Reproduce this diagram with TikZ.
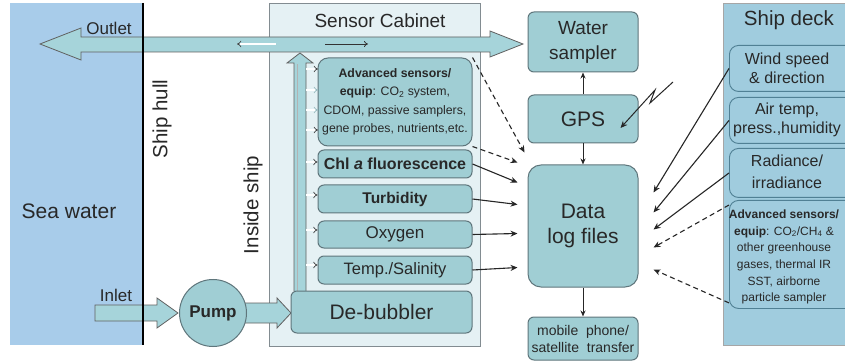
\documentclass[tikz,border=0pt]{standalone}
\usepackage{fontspec}
\setmainfont{Liberation Sans}
\usetikzlibrary{arrows.meta,calc}
\definecolor{seablue}{RGB}{168,204,234}
\definecolor{cabfill}{RGB}{229,241,244}
\definecolor{cabdraw}{RGB}{130,140,145}
\definecolor{boxfill}{RGB}{160,206,212}
\definecolor{boxdraw}{RGB}{95,118,124}
\definecolor{arrowfill}{RGB}{166,212,218}
\definecolor{deckfill}{RGB}{160,204,222}
\definecolor{deckdraw}{RGB}{80,128,148}
\definecolor{textcol}{RGB}{40,40,40}
\begin{document}
\begin{tikzpicture}[x=1pt,y=-1pt,
  box/.style={draw=boxdraw, fill=boxfill, rounded corners=6pt, line width=1pt, text=textcol, align=center, inner sep=1pt},
  deckbox/.style={draw=deckdraw, fill=deckfill, rounded corners=9pt, line width=0.9pt, inner sep=0pt},
  lbl/.style={text=textcol, align=center, inner sep=0pt},
  conn/.style={draw=black!85, line width=1.1pt, -{Stealth[length=7pt,width=6pt]}},
  dconn/.style={conn, dash pattern=on 5pt off 3.5pt},
  blockarrow/.style={fill=arrowfill, draw=gray!75!black, line width=0.8pt},
  smallarr/.style={draw=gray!55!black, double=white, double distance=1.4pt, line width=0.7pt, -{Implies}},
  thinarr/.style={draw=gray!40!black, line width=0.8pt, -{To[length=4pt,width=6pt]}}
]
\useasboundingbox (0,0) rectangle (845,363);
\clip (0,0) rectangle (845,363);
\fill[white] (0,0) rectangle (845,363);

% panels
\fill[seablue] (10,3) rectangle (143,345);
\draw[fill=cabfill, draw=cabdraw, line width=0.9pt] (269,3) rectangle (480,346);
\draw[fill=deckfill, draw=gray!70, line width=0.8pt] (723,3) rectangle (850,345);

% labels
\node[lbl, font=\fontsize{21}{24}\selectfont] (sea) at (69,211) {Sea water};
\node[lbl, font=\fontsize{20.5}{24}\selectfont, rotate=90] (hull) at (162,119) {Ship hull};
\node[lbl, font=\fontsize{20.5}{24}\selectfont, rotate=90] (inside) at (253,205) {Inside ship};
\node[lbl, font=\fontsize{17}{20}\selectfont] (outlet) at (109,28) {Outlet};
\node[lbl, font=\fontsize{17}{20}\selectfont] (inlet) at (116,295) {Inlet};
\node[lbl, font=\fontsize{19}{22}\selectfont] (cabt) at (380,21) {Sensor Cabinet};
\node[lbl, font=\fontsize{20.5}{24}\selectfont] (deckt) at (789,20) {Ship deck};

% block arrows
\draw[blockarrow] (40,44) -- (81,28) -- (81,37) -- (490,37) -- (490,31) -- (523,44)
  -- (490,57) -- (490,52) -- (81,52) -- (81,60) -- cycle;
\draw[blockarrow] (294,291) -- (294,63) -- (287,63) -- (300,53) -- (313,63) -- (306,63) -- (306,291);
\draw[draw=gray!60, line width=0.5pt] (297,291) -- (297,64);
\draw[blockarrow] (95,305) -- (157,305) -- (157,298) -- (178,313) -- (157,328) -- (157,321) -- (95,321) -- cycle;
\draw[blockarrow] (244,303) -- (277,303) -- (277,298) -- (291,313) -- (277,328) -- (277,323) -- (244,323) -- cycle;

% thin arrows inside the outlet pipe
\draw[smallarr] (276,44) -- (237,44);
\draw[thinarr] (325,44) -- (368,44);

% ship hull
\draw[black, line width=2.6pt] (143,3) -- (143,345);

% pump
\node[circle, draw=boxdraw, fill=boxfill, line width=1pt, minimum size=67pt, inner sep=0pt,
  text=textcol, font=\bfseries\fontsize{17}{20}\selectfont] (pump) at (213,313) {Pump};

% sensor cabinet boxes
\node[box, rounded corners=10pt, minimum width=154pt, minimum height=88pt,
  font=\fontsize{12.3}{18.5}\selectfont] (adv) at (395,102)
  {\textbf{Advanced sensors/}\\\textbf{equip}: CO\textsubscript{2} system,\\CDOM, passive samplers,\\gene probes, nutrients,etc.};
\node[box, minimum width=154pt, minimum height=28pt, font=\bfseries\fontsize{16}{18}\selectfont] (chl) at (395,164) {Chl \textit{a} fluorescence};
\node[box, minimum width=154pt, minimum height=28pt, font=\bfseries\fontsize{15.5}{18}\selectfont] (turb) at (395,199) {Turbidity};
\node[box, minimum width=154pt, minimum height=27pt, font=\fontsize{17}{18}\selectfont] (oxy) at (395,234.5) {Oxygen};
\node[box, minimum width=154pt, minimum height=28pt, font=\fontsize{16.5}{18}\selectfont] (temp) at (395,270) {Temp./Salinity};
\node[box, minimum width=181pt, minimum height=42pt, font=\fontsize{21}{24}\selectfont] (deb) at (381.5,312) {De-bubbler};

% small feed arrows
\draw[smallarr] (306,69) -- (318,69);
\draw[smallarr, draw=arrowfill!70!gray] (306,90) -- (318,90);
\draw[smallarr, draw=arrowfill!70!gray] (306,110) -- (318,110);
\draw[smallarr] (306,130) -- (318,130);
\draw[smallarr] (306,162) -- (chl.west |- 0,162);
\draw[smallarr] (306,195) -- (turb.west |- 0,195);
\draw[smallarr] (306,230) -- (oxy.west |- 0,230);
\draw[smallarr] (306,265) -- (temp.west |- 0,265);

% right column
\node[box, minimum width=110pt, minimum height=60pt, font=\fontsize{19}{25}\selectfont] (ws) at (583,42) {Water\\sampler};
\node[box, minimum width=110pt, minimum height=48pt, font=\fontsize{21}{24}\selectfont] (gps) at (583,119) {GPS};
\node[box, rounded corners=13pt, minimum width=110pt, minimum height=122pt, font=\fontsize{21}{25}\selectfont] (log) at (583,226) {Data\\log files};
\node[box, minimum width=110pt, minimum height=43pt, font=\fontsize{14}{17}\selectfont] (mob) at (583,338.5) {mobile\ \ phone/\\satellite\ \ transfer};

% ship deck boxes
\node[deckbox, anchor=north west, minimum width=130pt, minimum height=46pt] (wind) at (729,45) {};
\node[deckbox, anchor=north west, minimum width=130pt, minimum height=46pt] (air) at (729,97) {};
\node[deckbox, anchor=north west, minimum width=130pt, minimum height=49pt] (rad) at (729,148) {};
\node[deckbox, anchor=north west, minimum width=130pt, minimum height=108pt] (advd) at (729,200) {};
\node[lbl, font=\fontsize{16}{19}\selectfont] (windt) at (787,68) {Wind speed\\\& direction};
\node[lbl, font=\fontsize{16}{19}\selectfont] (airt) at (787,120) {Air temp,\\press.,humidity};
\node[lbl, font=\fontsize{16}{22}\selectfont] (radt) at (787,172) {Radiance/\\irradiance};
\node[lbl, font=\fontsize{12}{16.7}\selectfont] (advdt) at (784,257)
  {\textbf{Advanced sensors/}\\\textbf{equip}: CO\textsubscript{2}/CH\textsubscript{4} \&\\other greenhouse\\gases, thermal IR\\SST, airborne\\particle sampler};

% connectors: cabinet -> data log
\draw[dconn] (adv.north east) -- ($(log.north west)+(-3,-12)$);
\draw[dconn] (adv.south east) -- ($(log.north west)+(-10,-2)$);
\draw[conn] (chl.east) -- ($(log.north west)+(-10,18)$);
\draw[conn] (turb.east) -- ($(log.north west)+(-10,40)$);
\draw[conn] (oxy.east) -- ($(log.north west)+(-10,69)$);
\draw[conn] (temp.east) -- ($(log.north west)+(-10,103)$);

% connectors: ship deck -> data log
\draw[conn] (wind.west) -- ($(log.north east)+(15,28)$);
\draw[conn] (air.west) -- ($(log.north east)+(15,48)$);
\draw[conn] (rad.west) -- ($(log.north east)+(15,65)$);
\draw[dconn] ($(advd.north west)+(0,5)$) -- ($(log.north east)+(15,83)$);
\draw[dconn] ($(advd.south west)+(0,-6)$) -- ($(log.north east)+(15,105)$);

% column arrows
\draw[conn, line width=1pt, -{Stealth[length=6pt,width=5pt]}] (gps.north) -- (ws.south);
\draw[conn, line width=1pt, -{Stealth[length=6pt,width=5pt]}] (gps.south) -- (log.north);
\draw[conn, line width=1pt, -{Stealth[length=6pt,width=5pt]}] (log.south) -- (mob.north);

% GPS signal
\coordinate (bolt) at (673,82);
\draw[conn, line width=1pt] (bolt) -- (650,103) -- (655,90) -- ($(gps.east)+(-18,9)$);
\end{tikzpicture}
\end{document}
